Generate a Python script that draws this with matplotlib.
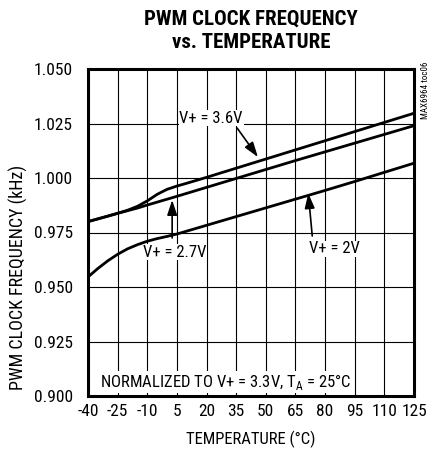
import matplotlib
matplotlib.use("Agg")
import matplotlib.pyplot as plt
from matplotlib import font_manager

# look for a narrow sans face, otherwise fall back to Liberation Sans
fonts = font_manager.fontManager.ttflist
narrow = None
for pref in ["Liberation Sans Narrow", "Roboto Condensed", "DejaVu Sans Condensed",
             "Open Sans Condensed", "Noto Sans Condensed"]:
    if any(f.name == pref for f in fonts):
        narrow = pref
        break
stretch = "normal"
if narrow is None:
    for f in fonts:
        if f.stretch in ("condensed", "semi-condensed") and "Sans" in f.name:
            narrow, stretch = f.name, f.stretch
            break
if narrow is None:
    narrow = "Liberation Sans"
    scale = 0.9
else:
    scale = 1.0

plt.rcParams['font.family'] = [narrow, 'DejaVu Sans']
plt.rcParams['font.stretch'] = stretch
plt.rcParams['axes.unicode_minus'] = False
plt.rcParams['mathtext.fontset'] = 'custom'
plt.rcParams['mathtext.rm'] = narrow

# data
temps_36 = [-40, -30, -25, -20, -15, -10, -5, 0, 5, 10, 20, 35, 50, 65, 80, 95, 110, 125]
freq_36 = [0.9800, 0.9825, 0.9838, 0.9852, 0.9870, 0.9895, 0.9925, 0.9948, 0.9963, 0.9976,
           1.0003, 1.0045, 1.0087, 1.0129, 1.0171, 1.0213, 1.0255, 1.0297]

temps_27 = [-40, -30, -25, -20, -15, -10, 5, 20, 35, 50, 65, 80, 95, 110, 125]
freq_27 = [0.9800, 0.9825, 0.9838, 0.9850, 0.9862, 0.9876, 0.9916, 0.9957, 0.9998,
           1.0039, 1.0080, 1.0120, 1.0160, 1.0200, 1.0240]

temps_20 = [-40, -35, -30, -25, -20, -15, -10, -5, 0, 5, 20, 35, 50, 65, 80, 95, 110, 125]
freq_20 = [0.9546, 0.9585, 0.9620, 0.9650, 0.9675, 0.9694, 0.9710, 0.9722, 0.9732, 0.9743,
           0.9783, 0.9823, 0.9863, 0.9903, 0.9943, 0.9984, 1.0026, 1.0068]

x_ticks = list(range(-40, 126, 15))
y_ticks = [0.900, 0.925, 0.950, 0.975, 1.000, 1.025, 1.050]

fig = plt.figure(figsize=(4.36, 4.5), dpi=100)
ax = fig.add_axes([88/436, 1 - 396/450, 326/436, 327/450])

for t, f in [(temps_36, freq_36), (temps_27, freq_27), (temps_20, freq_20)]:
    ax.plot(t, f, color='black', lw=2.0, solid_capstyle='butt', zorder=3)

ax.set_xlim(-40, 125)
ax.set_ylim(0.900, 1.050)
ax.set_xticks(x_ticks)
ax.set_yticks(y_ticks)
ax.set_yticklabels([f"{v:.3f}" for v in y_ticks])
ax.tick_params(length=0, labelsize=12.5 * scale)
ax.tick_params(axis='y', pad=11)
ax.tick_params(axis='x', pad=6)
ax.grid(True, color='black', lw=0.8)
for s in ax.spines.values():
    s.set_linewidth(2.2)

ax.set_xlabel("TEMPERATURE (°C)", fontsize=12 * scale, labelpad=8)
fig.text(18/436, 1 - 277/450, "PWM CLOCK FREQUENCY (kHz)", fontsize=13 * scale,
         rotation=90, ha='center', va='center')

box = dict(facecolor='white', edgecolor='none', pad=0.5)
arrow = dict(arrowstyle='-|>,head_length=0.9,head_width=0.3', color='black', lw=1.2,
             shrinkA=0, shrinkB=0)
fs = 12 * scale

ax.annotate("", xy=(46, 1.0096), xytext=(35.5, 1.0229), arrowprops=arrow, zorder=5)
ax.text(22.3, 1.0275, "V+ = 3.6V", fontsize=fs, ha='center', va='center', bbox=box, zorder=6)

ax.annotate("", xy=(2.6, 0.9899), xytext=(2.6, 0.9725), arrowprops=arrow, zorder=5)
ax.text(4, 0.9660, "V+ = 2.7V", fontsize=fs, ha='center', va='center', bbox=box, zorder=6)

ax.annotate("", xy=(71.5, 0.9930), xytext=(73.5, 0.9734), arrowprops=arrow, zorder=5)
ax.text(84.5, 0.9675, "V+ = 2V", fontsize=fs, ha='center', va='center', bbox=box, zorder=6)

ax.text(-33.8, 0.9064, r"NORMALIZED TO V+ = 3.3V, T$_\mathregular{A}$ = 25°C", fontsize=fs,
        ha='left', va='center', bbox=box, zorder=6)

fig.text(251/436, 1 - 19/450, "PWM CLOCK FREQUENCY", fontsize=15 * scale, fontweight='bold',
         ha='center', va='center')
fig.text(251/436, 1 - 43/450, "vs. TEMPERATURE", fontsize=15 * scale, fontweight='bold',
         ha='center', va='center')
fig.text(425/436, 1 - 62/450, "MAX6964 toc06", fontsize=6.5, rotation=90,
         ha='center', va='top')

fig.savefig("out.png", dpi=100)
